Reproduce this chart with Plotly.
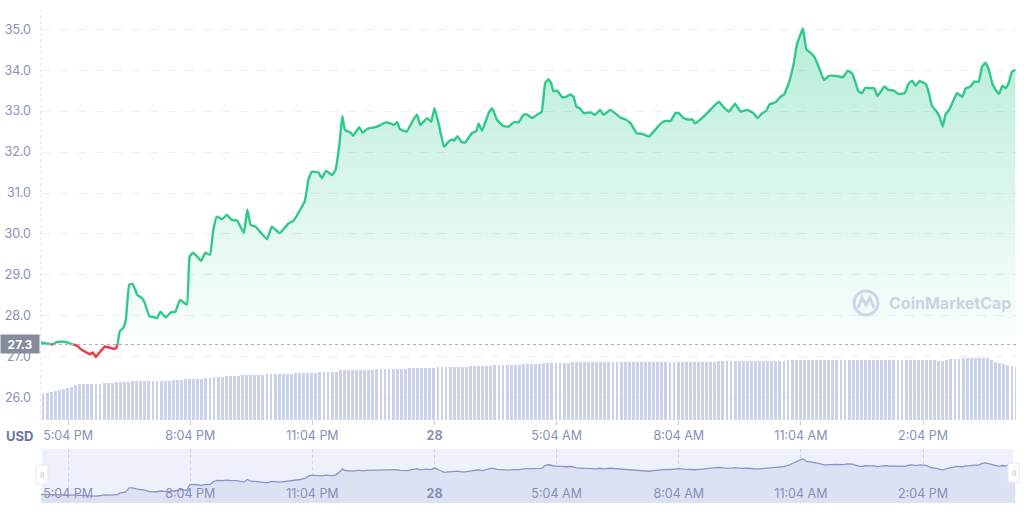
import pandas as pd
import plotly.graph_objects as go

# ---------------- data ----------------
START = "2021-05-27 16:24"
BASE_PRICE = 27.3

# minutes after start
minutes = [0, 13, 17, 23, 33, 38, 45, 53, 60, 67, 72, 76, 81, 87, 94, 102, 107, 111, 113, 116,
           121, 125, 130, 135, 142, 149, 153, 160, 166, 171, 176, 184, 191, 198, 205, 215, 219, 224, 230, 236,
           242, 249, 254, 259, 267, 274, 281, 289, 299, 304, 309, 316, 333, 340, 352, 365, 372, 382, 389, 394,
           399, 409, 414, 420, 429, 434, 440, 444, 448, 456, 460, 469, 474, 481, 493, 500, 507, 515, 520, 525,
           529, 539, 547, 554, 559, 569, 575, 580, 586, 594, 601, 606, 609, 614, 620, 625, 635, 642, 645, 650,
           660, 665, 672, 681, 689, 697, 704, 711, 716, 724, 731, 738, 743, 748, 752, 755, 761, 768, 774, 780,
           785, 789, 794, 800, 810, 817, 824, 829, 839, 846, 854, 861, 869, 878, 887, 896, 903, 913, 920, 928,
           935, 940, 947, 955, 960, 964, 974, 984, 991, 999, 1006, 1014, 1023, 1031, 1041, 1050, 1056, 1063, 1069, 1074,
           1082, 1090, 1095, 1102, 1109, 1114, 1119, 1123, 1128, 1134, 1140, 1146, 1154, 1161, 1171, 1182, 1189, 1196, 1200, 1205,
           1210, 1215, 1222, 1228, 1233, 1243, 1249, 1257, 1264, 1273, 1279, 1284, 1289, 1295, 1304, 1308, 1313, 1320, 1325, 1329,
           1333, 1339, 1345, 1350, 1358, 1363, 1370, 1375, 1382, 1387, 1392, 1397, 1402, 1407, 1412, 1417, 1422, 1426, 1431, 1436]

price = [27.35, 27.31, 27.29, 27.36, 27.37, 27.35, 27.31, 27.27, 27.17, 27.10, 27.06, 27.10, 27.00, 27.12, 27.25, 27.22, 27.19, 27.21, 27.31, 27.62,
         27.70, 27.90, 28.76, 28.78, 28.51, 28.43, 28.31, 27.98, 27.97, 27.94, 28.10, 27.96, 28.08, 28.10, 28.39, 28.27, 29.45, 29.54, 29.45, 29.34,
         29.54, 29.49, 30.10, 30.42, 30.36, 30.47, 30.34, 30.33, 30.02, 30.60, 30.22, 30.18, 29.87, 30.18, 30.02, 30.26, 30.32, 30.59, 30.81, 31.32,
         31.52, 31.50, 31.36, 31.54, 31.44, 31.56, 32.22, 32.88, 32.54, 32.48, 32.40, 32.61, 32.47, 32.57, 32.61, 32.66, 32.72, 32.70, 32.66, 32.73,
         32.56, 32.50, 32.74, 32.92, 32.66, 32.83, 32.74, 33.07, 32.70, 32.13, 32.26, 32.31, 32.28, 32.39, 32.24, 32.23, 32.46, 32.52, 32.70, 32.52,
         32.96, 33.07, 32.79, 32.64, 32.62, 32.73, 32.73, 32.91, 32.92, 32.83, 32.91, 32.99, 33.68, 33.78, 33.68, 33.49, 33.50, 33.34, 33.35, 33.41,
         33.35, 33.11, 33.07, 32.95, 32.97, 32.91, 33.03, 32.91, 33.03, 32.95, 32.84, 32.80, 32.70, 32.46, 32.44, 32.38, 32.50, 32.69, 32.76, 32.76,
         32.95, 32.95, 32.83, 32.79, 32.80, 32.70, 32.83, 32.99, 33.11, 33.23, 33.10, 32.99, 33.18, 32.99, 33.03, 32.95, 32.83, 32.95, 33.01, 33.17,
         33.21, 33.35, 33.40, 33.68, 34.13, 34.62, 34.86, 35.02, 34.51, 34.43, 34.32, 34.09, 33.76, 33.86, 33.86, 33.83, 33.99, 33.91, 33.72, 33.48,
         33.44, 33.57, 33.56, 33.56, 33.37, 33.60, 33.52, 33.50, 33.42, 33.44, 33.68, 33.74, 33.62, 33.74, 33.66, 33.48, 33.13, 32.99, 32.83, 32.62,
         32.91, 33.05, 33.27, 33.44, 33.35, 33.56, 33.60, 33.72, 33.72, 34.09, 34.18, 34.01, 33.68, 33.52, 33.42, 33.62, 33.56, 33.68, 33.96, 34.01]

# volume bars, one every 6 minutes (millions USD)
VOL_STEP_MIN = 6
volume = [52, 54, 56, 58, 60, 62, 64, 66, 70, 72, 72, 73, 73, 73, 73, 74, 74, 75, 76, 77,
          77, 77, 78, 78, 78, 78, 78, 78, 79, 79, 79, 79, 80, 80, 81, 82, 82, 82, 83, 83,
          84, 85, 86, 86, 87, 88, 88, 89, 89, 90, 90, 90, 91, 91, 91, 92, 92, 92, 93, 93,
          93, 93, 94, 94, 94, 95, 95, 95, 96, 96, 96, 97, 97, 100, 100, 100, 100, 101, 101, 101,
          101, 101, 102, 102, 102, 102, 103, 103, 103, 103, 104, 104, 104, 104, 105, 105, 105, 106, 106, 106,
          106, 106, 107, 107, 107, 108, 108, 108, 109, 109, 109, 110, 110, 110, 110, 111, 111, 111, 112, 112,
          112, 113, 113, 114, 114, 114, 115, 115, 115, 115, 116, 116, 116, 116, 116, 116, 116, 116, 116, 116,
          116, 116, 117, 116, 116, 116, 117, 117, 116, 116, 116, 116, 117, 117, 117, 116, 116, 116, 117, 117,
          117, 117, 117, 117, 117, 117, 118, 118, 118, 118, 118, 118, 118, 118, 118, 119, 119, 119, 119, 119,
          119, 119, 119, 120, 120, 120, 120, 120, 120, 120, 120, 120, 120, 120, 120, 120, 120, 120, 120, 120,
          120, 120, 120, 120, 120, 120, 120, 120, 120, 120, 120, 120, 120, 120, 120, 120, 120, 120, 121, 121,
          119, 119, 121, 122, 122, 123, 124, 124, 125, 125, 125, 125, 124, 120, 116, 114, 112, 110, 108, 107]

tick_minutes = [40, 220, 400, 580, 760, 940, 1120, 1300]
tick_labels = ["5:04 PM", "8:04 PM", "11:04 PM", "<b>28</b>", "5:04 AM", "8:04 AM", "11:04 AM", "2:04 PM"]
y_ticks = [26, 27, 28, 29, 30, 31, 32, 33, 34, 35]

# ---------------- derived ----------------
assert len(minutes) == len(price)
start = pd.Timestamp(START)
def to_time(m):
    return start + pd.Timedelta(minutes=m)

# insert crossing points at base price so line can switch colours
ref_m, ref_p = [], []
for i in range(len(minutes)):
    if i > 0:
        p0, p1 = price[i - 1], price[i]
        if (p0 - BASE_PRICE) * (p1 - BASE_PRICE) < 0:
            f = (BASE_PRICE - p0) / (p1 - p0)
            ref_m.append(minutes[i - 1] + f * (minutes[i] - minutes[i - 1]))
            ref_p.append(BASE_PRICE)
    ref_m.append(minutes[i])
    ref_p.append(price[i])

ref_t = [to_time(m) for m in ref_m]
green_y = [p if p >= BASE_PRICE else None for p in ref_p]
red_y = [p if p <= BASE_PRICE else None for p in ref_p]
fill_y = [max(p, BASE_PRICE) for p in ref_p]
vol_t = [to_time((i + 0.5) * VOL_STEP_MIN) for i in range(len(volume))]
tick_vals = [to_time(m) for m in tick_minutes]
x_range = [to_time(0), to_time(1437)]

GREEN = "#2fc98a"
RED = "#ea3943"
LABEL = "#8790b6"
FONT = "Inter"

fig = go.Figure()

# volume bars (overlay axis)
fig.add_trace(go.Bar(x=vol_t, y=volume, yaxis="y2", xaxis="x",
                     marker=dict(color="#ccd1ea", line=dict(width=0)),
                     width=VOL_STEP_MIN * 60000 * 0.7, hoverinfo="skip"))

# fill baseline + gradient fill
fig.add_trace(go.Scatter(x=ref_t, y=[BASE_PRICE] * len(ref_t), mode="lines",
                         line=dict(width=0), hoverinfo="skip", showlegend=False))
fig.add_trace(go.Scatter(x=ref_t, y=fill_y, mode="lines", line=dict(width=0),
                         fill="tonexty",
                         fillgradient=dict(type="vertical", start=BASE_PRICE, stop=35.0,
                                           colorscale=[[0, "rgba(40,200,135,0.02)"],
                                                       [0.5, "rgba(40,200,135,0.17)"],
                                                       [1, "rgba(40,200,135,0.34)"]]),
                         hoverinfo="skip", showlegend=False))
# price lines
fig.add_trace(go.Scatter(x=ref_t, y=green_y, mode="lines", connectgaps=False,
                         line=dict(color=GREEN, width=2.4, shape="spline", smoothing=0.3),
                         showlegend=False))
fig.add_trace(go.Scatter(x=ref_t, y=red_y, mode="lines", connectgaps=False,
                         line=dict(color=RED, width=2.4),
                         showlegend=False))

# navigator
fig.add_trace(go.Scatter(x=[to_time(m) for m in minutes], y=price, xaxis="x2", yaxis="y3",
                         mode="lines", line=dict(color="#8c97c6", width=1.3),
                         fill="tozeroy", fillcolor="#dde1f4", hoverinfo="skip", showlegend=False))

W_PLOT = 975.0
H_PLOT = 493.0
def px_x(x):
    return (x - 41) / W_PLOT
def px_y(y):
    return (503 - y) / H_PLOT

main_bottom = px_y(420)
nav_top = px_y(449)

fig.update_layout(
    width=1024, height=514,
    margin=dict(l=41, r=8, t=10, b=11, autoexpand=False),
    paper_bgcolor="white", plot_bgcolor="white",
    showlegend=False,
    font=dict(family=FONT, size=12.5, color=LABEL),
    bargap=0,
    xaxis=dict(domain=[0, 1], anchor="y", range=x_range, type="date", automargin=False,
               tickvals=tick_vals, ticktext=tick_labels,
               ticks="outside", ticklen=4, tickcolor="#c3c8de", tickwidth=1,
               showgrid=False, zeroline=False, showline=False,
               tickfont=dict(family=FONT, size=12.5, color=LABEL)),
    yaxis=dict(domain=[main_bottom, 1], anchor="x", range=[25.455, 35.47], automargin=False,
               tickvals=y_ticks, tickformat=".1f",
               showgrid=True, gridcolor="#eceef4", griddash="dash", gridwidth=1,
               zeroline=False, showline=False, ticks="", ticklabelstandoff=9,
               tickfont=dict(family=FONT, size=12.5, color=LABEL)),
    yaxis2=dict(overlaying="y", range=[0, 820], visible=False, anchor="x"),
    xaxis2=dict(domain=[0, 1], anchor="y3", range=x_range, type="date", automargin=False,
                tickvals=tick_vals, ticktext=tick_labels,
                ticks="", ticklabelposition="inside",
                showgrid=True, gridcolor="#cdd2ea", griddash="dot", gridwidth=1,
                zeroline=False, showline=False,
                tickfont=dict(family=FONT, size=12.5, color=LABEL)),
    yaxis3=dict(domain=[0, nav_top], anchor="x2", range=[25.5, 37.2], automargin=False,
                visible=False, showgrid=False),
)

shapes = []
# navigator background
shapes.append(dict(type="rect", xref="paper", yref="paper",
                   x0=px_x(42), x1=px_x(1013), y0=0, y1=nav_top,
                   fillcolor="#eef0fb", line=dict(width=0), layer="below"))
# base price dotted line
shapes.append(dict(type="line", xref="paper", yref="y", x0=0, x1=1,
                   y0=BASE_PRICE, y1=BASE_PRICE,
                   line=dict(color="#a9aec0", width=1, dash="dot"), layer="above"))
# left dotted axis line
shapes.append(dict(type="line", xref="paper", yref="paper", x0=px_x(40.5), x1=px_x(40.5),
                   y0=main_bottom, y1=1, line=dict(color="#e3e6f1", width=1, dash="dot"),
                   layer="below"))
# navigator handles
for hx0, hx1, hy0, hy1 in [(36, 48, 465, 484), (1008, 1019, 463, 482)]:
    shapes.append(dict(type="rect", xref="paper", yref="paper",
                       x0=px_x(hx0), x1=px_x(hx1), y0=px_y(hy1), y1=px_y(hy0),
                       fillcolor="white", line=dict(color="#e6e8f2", width=1), layer="above"))
# watermark logo
shapes.append(dict(type="circle", xref="paper", yref="paper",
                   x0=px_x(854), x1=px_x(878), y0=px_y(315), y1=px_y(291),
                   line=dict(color="#d0d4e4", width=3)))
wave = [(858, 308), (862, 298), (866, 305), (870, 298), (874, 308)]
path = "M " + " L ".join(f"{px_x(a):.5f},{px_y(b):.5f}" for a, b in wave)
shapes.append(dict(type="path", xref="paper", yref="paper", path=path,
                   line=dict(color="#d0d4e4", width=3)))
fig.update_layout(shapes=shapes)

annotations = [
    dict(text="<b>27.3</b>", xref="paper", yref="y", x=px_x(40), y=BASE_PRICE,
         xanchor="right", yanchor="middle", showarrow=False,
         bgcolor="#878c9c", font=dict(family=FONT, size=12, color="white"),
         width=34, height=14, borderpad=2),
    dict(text="<b>USD</b>", xref="paper", yref="paper", x=px_x(4), y=px_y(436),
         xanchor="left", yanchor="middle", showarrow=False,
         font=dict(family=FONT, size=13, color="#6c77a0")),
    dict(text="<b>CoinMarketCap</b>", xref="paper", yref="paper", x=px_x(887), y=px_y(303),
         xanchor="left", yanchor="middle", showarrow=False,
         font=dict(family=FONT, size=16, color="#cdd2e3")),
    dict(text="II", xref="paper", yref="paper", x=px_x(42), y=px_y(474.5),
         xanchor="center", yanchor="middle", showarrow=False,
         font=dict(family=FONT, size=8, color="#b5bad0")),
    dict(text="II", xref="paper", yref="paper", x=px_x(1013.5), y=px_y(472.5),
         xanchor="center", yanchor="middle", showarrow=False,
         font=dict(family=FONT, size=8, color="#b5bad0")),
]
fig.update_layout(annotations=annotations)

# remove the browser's default page margin so the figure sits at the window origin
fig.write_html("out.html", config={"displayModeBar": False},
               post_script="document.body.style.margin='0';document.body.style.overflow='hidden';")
